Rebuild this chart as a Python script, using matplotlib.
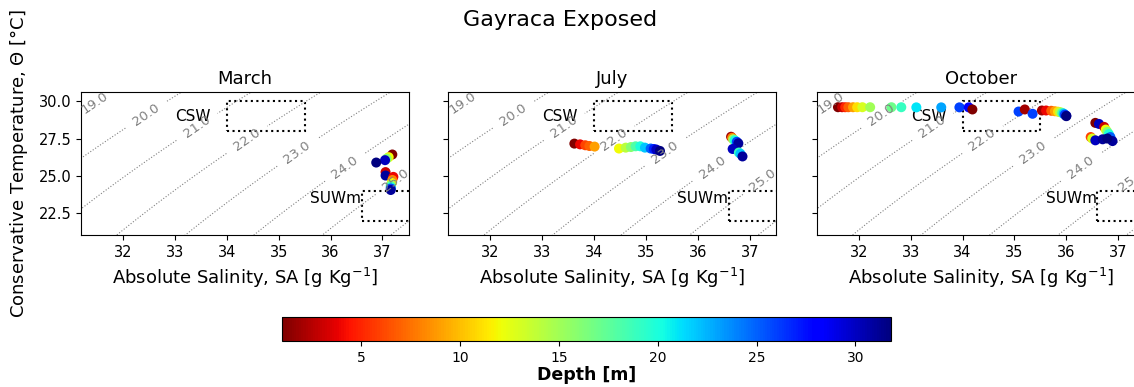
import numpy as np
import matplotlib
matplotlib.use('Agg')
import matplotlib.pyplot as plt
from matplotlib.patches import Rectangle
from matplotlib.colors import Normalize

# CTD profiles, one list per month: Absolute Salinity, Conservative Temp, depth
MONTHS = ['March', 'July', 'October']

mar_sa = [37.19, 37.12, 37.08, 37.05, 36.88, 37.06, 37.06,
          37.21, 37.19, 37.18, 37.16, 37.16, 37.16, 37.16]
mar_ct = [26.43, 26.25, 26.15, 26.05, 25.89, 25.25, 25.02,
          24.93, 24.72, 24.52, 24.36, 24.25, 24.15, 24.05]
mar_z = [1, 12, 16, 30, 32, 3, 31,
         4, 8, 12, 16, 20, 26, 31]

jul_sa = [33.62, 33.73, 33.83, 33.91, 34.01,
          34.48, 34.61, 34.71, 34.80, 34.89, 34.98, 35.09, 35.15, 35.20, 35.27,
          36.64, 36.66, 36.68, 36.71, 36.75, 36.78,
          36.67, 36.79, 36.82, 36.86]
jul_ct = [27.16, 27.11, 27.05, 27.00, 26.96,
          26.83, 26.89, 26.93, 26.98, 26.98, 26.89, 26.83, 26.80, 26.76, 26.67,
          27.62, 27.55, 27.45, 27.38, 27.28, 27.18,
          26.80, 26.56, 26.48, 26.30]
jul_z = [1, 4, 6, 7, 9,
         12, 14, 16, 18, 20, 22, 25, 27, 30, 32,
         2, 8, 15, 20, 26, 31,
         30, 19, 22, 31]

oct_sa = [31.60, 31.68, 31.74, 31.80, 31.89, 31.97, 32.07, 32.22, 32.63, 32.82,
          33.11, 33.59, 33.94, 34.12,
          34.19, 35.08, 35.20, 35.35,
          35.53, 35.61, 35.71, 35.78, 35.84, 35.88, 35.92, 35.95, 35.97, 36.00, 36.00,
          36.56, 36.63, 36.73, 36.76, 36.79, 36.82, 36.85, 36.89,
          36.47, 36.50, 36.56, 36.70, 36.79]
oct_ct = [29.60, 29.60, 29.60, 29.60, 29.60, 29.60, 29.60, 29.60, 29.60, 29.60,
          29.59, 29.59, 29.59, 29.59,
          29.45, 29.31, 29.45, 29.16,
          29.38, 29.38, 29.36, 29.33, 29.30, 29.27, 29.22, 29.17, 29.10, 29.03, 29.00,
          28.55, 28.48, 28.28, 28.10, 27.95, 27.80, 27.60, 27.33,
          27.60, 27.50, 27.38, 27.45, 27.50]
oct_z = [1, 3, 5, 7, 9, 11, 13, 15, 17, 19,
         21, 23, 26, 28,
         1, 26, 2, 26,
         2, 4, 7, 9, 11, 14, 18, 22, 26, 30, 32,
         1, 30, 3, 12, 16, 20, 25, 31,
         6, 13, 30, 31, 32]

# water mass boxes (SA range, CT range)
CSW_BOX = (34.0, 35.5, 28.0, 30.0)
SUW_BOX = (36.6, 38.0, 22.0, 24.0)

SIGMA_LEVELS = np.arange(16, 28, 1.0)
DEPTH_MIN, DEPTH_MAX = 1, 31.8


def sigma0(sa, ct):
    # EOS-80 surface density anomaly, SA converted back to practical salinity
    s = sa * 35.0 / 35.16504
    t = ct
    rho_w = (999.842594 + 6.793952e-2 * t - 9.095290e-3 * t**2
             + 1.001685e-4 * t**3 - 1.120083e-6 * t**4 + 6.536332e-9 * t**5)
    a = (8.24493e-1 - 4.0899e-3 * t + 7.6438e-5 * t**2
         - 8.2467e-7 * t**3 + 5.3875e-9 * t**4)
    b = -5.72466e-3 + 1.0227e-4 * t - 1.6546e-6 * t**2
    c = 4.8314e-4
    return rho_w + a * s + b * s**1.5 + c * s**2 - 1000.0


sa_grid, ct_grid = np.meshgrid(np.linspace(30.5, 38.5, 200), np.linspace(20, 31.5, 200))
sig_grid = sigma0(sa_grid, ct_grid)

label_spots = [(31.4, 30.2), (32.43, 29.15), (33.42, 28.3), (34.4, 27.35),
               (35.4, 26.4), (36.32, 25.4), (37.3, 24.5)]

fig = plt.figure(figsize=(11.34, 3.87), dpi=100)
fig.suptitle('Gayraca Exposed', fontsize=16, x=0.494, y=0.975)

lefts = [0.0714, 0.3953, 0.7202]
data = [(mar_sa, mar_ct, mar_z), (jul_sa, jul_ct, jul_z), (oct_sa, oct_ct, oct_z)]
norm = Normalize(vmin=DEPTH_MIN, vmax=DEPTH_MAX)

for i, (month, (sa, ct, z)) in enumerate(zip(MONTHS, data)):
    ax = fig.add_axes([lefts[i], 0.3915, 0.2892, 0.370])

    cs = ax.contour(sa_grid, ct_grid, sig_grid, levels=SIGMA_LEVELS,
                    colors='grey', linestyles=':', linewidths=0.8)
    ax.clabel(cs, fmt='%.1f', fontsize=9.5, colors='grey', inline=True,
              manual=label_spots)

    for (x0, x1, y0, y1) in (CSW_BOX, SUW_BOX):
        ax.add_patch(Rectangle((x0, y0), x1 - x0, y1 - y0, fill=False,
                               edgecolor='black', linestyle=':', linewidth=1.5))
    ax.text(33.0, 29.0, 'CSW', fontsize=11, ha='left', va='center')
    ax.text(35.6, 23.5, 'SUWm', fontsize=11, ha='left', va='center')

    sc = ax.scatter(sa, ct, c=z, cmap='jet_r', norm=norm, s=52,
                    edgecolors='none', zorder=3)

    ax.set_xlim(31.19, 37.51)
    ax.set_ylim(21.0, 30.6)
    ax.set_xticks([32, 33, 34, 35, 36, 37])
    ax.set_yticks([22.5, 25.0, 27.5, 30.0])
    ax.tick_params(labelsize=10.5)
    ax.set_title(month, fontsize=13)
    ax.set_xlabel('Absolute Salinity, SA [g Kg$^{-1}$]', fontsize=13)
    if i == 0:
        ax.set_ylabel('Conservative Temperature, $\\Theta$ [°C]', fontsize=13,
                      labelpad=6)
    else:
        ax.set_yticklabels([])

cax = fig.add_axes([0.2487, 0.1189, 0.537, 0.062])
cb = fig.colorbar(sc, cax=cax, orientation='horizontal')
cb.set_ticks([5, 10, 15, 20, 25, 30])
cb.ax.tick_params(labelsize=10)
cb.set_label('Depth [m]', fontsize=12.5, fontweight='bold', labelpad=1)

fig.savefig('out.png', dpi=100)
